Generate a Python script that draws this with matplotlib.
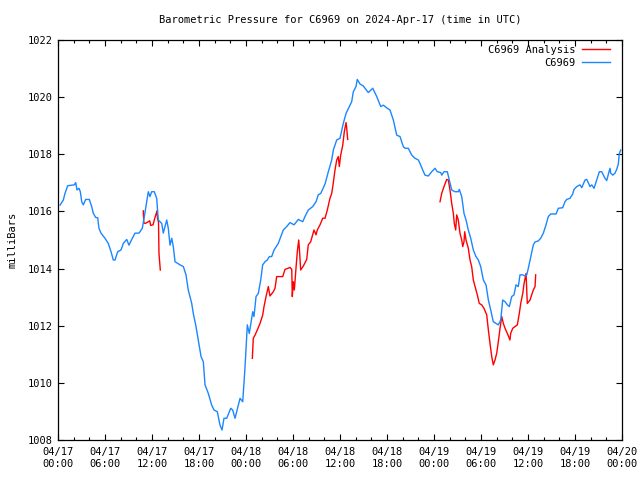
import matplotlib
matplotlib.use("Agg")
import matplotlib.pyplot as plt
import matplotlib.dates as mdates
import numpy as np
import pandas as pd

# hours after 2024-04-17 00:00 UTC, pressure in mb
obs_hours = [
    0.26, 0.68, 0.89, 1.24, 2.08, 2.26, 2.43, 2.68, 2.85, 3.03, 3.23, 3.54, 4.00, 4.30,
    4.51, 4.81, 5.07, 5.23, 5.49, 6.00, 6.42, 6.77, 7.06, 7.28, 7.62, 8.04, 8.34, 8.77,
    9.06, 9.49, 9.83, 10.34, 10.76, 11.02, 11.32, 11.53, 11.74, 11.96, 12.29, 12.60,
    12.80, 13.24, 13.44, 13.88, 14.08, 14.30, 14.52, 14.72, 14.94, 15.58, 16.00, 16.34,
    16.63, 17.07, 17.27, 17.62, 17.91, 18.26, 18.55, 18.77, 19.19, 19.62, 19.92, 20.34,
    20.68, 20.94, 21.19, 21.54, 22.05, 22.30, 22.60, 23.02, 23.24, 23.58, 23.81, 23.94,
    24.17, 24.42, 24.73, 24.86, 25.02, 25.28, 25.57, 25.88, 26.13, 26.43, 26.72, 26.98,
    27.28, 27.58, 28.12, 28.76, 29.20, 29.62, 30.13, 30.68, 31.24, 31.53, 31.95, 32.52,
    32.94, 33.23, 33.54, 34.09, 34.51, 34.94, 35.15, 35.58, 36.00, 36.42, 36.77, 37.28,
    37.49, 37.70, 38.04, 38.21, 38.55, 38.98, 39.61, 40.18, 40.69, 41.20, 41.53, 42.04,
    42.38, 42.81, 43.24, 43.66, 44.08, 44.30, 44.72, 45.16, 45.58, 46.00, 46.21, 46.56,
    46.85, 47.27, 47.71, 48.13, 48.42, 48.86, 48.99, 49.28, 49.70, 49.96, 50.26, 50.68,
    51.10, 51.23, 51.54, 51.83, 52.09, 52.38, 52.69, 53.02, 53.36, 53.66, 53.96, 54.30,
    54.64, 54.94, 55.24, 55.57, 55.92, 56.21, 56.52, 56.77, 57.07, 57.36, 57.62, 57.92,
    58.21, 58.47, 58.76, 58.98, 59.33, 59.62, 59.84, 60.04, 60.35, 60.68, 60.90, 61.32,
    61.62, 61.96, 62.30, 62.59, 62.90, 63.58, 63.87, 64.43, 64.72, 64.94, 65.36, 65.71,
    65.87, 66.22, 66.64, 66.86, 67.28, 67.50, 67.92, 68.14, 68.43, 68.77, 69.11, 69.41,
    69.83, 70.05, 70.34, 70.47, 70.56, 70.82, 71.11, 71.32, 71.53, 71.66, 71.84,
]
obs_mb = [
    1016.22, 1016.40, 1016.63, 1016.90, 1016.93, 1017.01, 1016.75, 1016.81, 1016.69,
    1016.34, 1016.23, 1016.42, 1016.42, 1016.17, 1015.93, 1015.79, 1015.78, 1015.41,
    1015.24, 1015.06, 1014.88, 1014.59, 1014.30, 1014.30, 1014.59, 1014.65, 1014.88,
    1015.02, 1014.82, 1015.06, 1015.24, 1015.24, 1015.41, 1015.82, 1016.34, 1016.69,
    1016.52, 1016.69, 1016.69, 1016.46, 1015.70, 1015.58, 1015.24, 1015.70, 1015.41,
    1014.82, 1015.06, 1014.77, 1014.24, 1014.13, 1014.07, 1013.78, 1013.25, 1012.78,
    1012.43, 1011.97, 1011.50, 1010.92, 1010.74, 1009.93, 1009.63, 1009.22, 1009.05,
    1008.99, 1008.52, 1008.35, 1008.76, 1008.76, 1009.11, 1009.05, 1008.76, 1009.22,
    1009.46, 1009.34, 1010.27, 1010.87, 1012.03, 1011.73, 1012.26, 1012.49, 1012.32,
    1013.02, 1013.13, 1013.60, 1014.13, 1014.24, 1014.30, 1014.42, 1014.42, 1014.65,
    1014.88, 1015.35, 1015.47, 1015.61, 1015.53, 1015.72, 1015.64, 1015.82, 1016.05,
    1016.17, 1016.34, 1016.58, 1016.63, 1016.96, 1017.39, 1017.80, 1018.15, 1018.50,
    1018.56, 1019.08, 1019.43, 1019.72, 1019.84, 1020.19, 1020.37, 1020.62, 1020.46,
    1020.39, 1020.16, 1020.31, 1020.02, 1019.67, 1019.72, 1019.61, 1019.55, 1019.20,
    1018.67, 1018.62, 1018.27, 1018.21, 1018.21, 1017.97, 1017.86, 1017.80, 1017.68,
    1017.45, 1017.27, 1017.24, 1017.39, 1017.51, 1017.39, 1017.36, 1017.27, 1017.39,
    1017.39, 1017.10, 1016.75, 1016.69, 1016.69, 1016.77, 1016.52, 1015.93, 1015.70,
    1015.35, 1015.06, 1014.65, 1014.42, 1014.30, 1014.07, 1013.60, 1013.43, 1012.90,
    1012.55, 1012.14, 1012.08, 1012.03, 1012.20, 1012.90, 1012.84, 1012.73, 1012.67,
    1013.02, 1013.08, 1013.43, 1013.37, 1013.78, 1013.78, 1013.74, 1013.78, 1014.01,
    1014.41, 1014.83, 1014.93, 1014.97, 1015.06, 1015.24, 1015.53, 1015.82, 1015.91,
    1015.91, 1016.11, 1016.13, 1016.34, 1016.42, 1016.46, 1016.61, 1016.77, 1016.87,
    1016.93, 1016.83, 1017.10, 1017.12, 1016.87, 1016.93, 1016.81, 1017.10, 1017.39,
    1017.39, 1017.16, 1017.08, 1017.39, 1017.51, 1017.34, 1017.27, 1017.34, 1017.47,
    1017.66, 1018.03, 1018.15,
]

# analysis runs (three separate pieces)
ana1_hours = [10.89, 10.95, 11.15, 11.53, 11.71, 11.83, 12.13, 12.35, 12.64, 12.70, 12.83, 12.89, 13.06]
ana1_mb = [1016.02, 1015.60, 1015.58, 1015.64, 1015.67, 1015.51, 1015.53, 1015.76, 1016.02,
           1015.76, 1015.63, 1014.53, 1013.95]

ana2_hours = [24.81, 24.93, 25.15, 25.44, 25.79, 26.13, 26.30, 26.56, 26.85, 27.06, 27.49, 27.70,
              27.92, 28.69, 28.98, 29.62, 29.84, 29.91, 30.04, 30.17, 30.38, 30.55, 30.73, 30.81,
              30.98, 31.32, 31.75, 31.95, 32.26, 32.68, 32.94, 33.10, 33.45, 33.79, 34.09, 34.38,
              34.72, 34.94, 35.11, 35.36, 35.58, 35.78, 35.91, 36.09, 36.35, 36.55, 36.77, 36.86, 36.98]
ana2_mb = [1010.86, 1011.56, 1011.67, 1011.85, 1012.08, 1012.37, 1012.67, 1013.02, 1013.37, 1013.04,
           1013.19, 1013.31, 1013.72, 1013.72, 1013.97, 1014.04, 1013.97, 1013.02, 1013.54, 1013.25,
           1014.01, 1014.59, 1015.00, 1014.71, 1013.95, 1014.09, 1014.32, 1014.83, 1014.94, 1015.35,
           1015.18, 1015.35, 1015.53, 1015.76, 1015.76, 1016.05, 1016.46, 1016.63, 1016.93, 1017.45,
           1017.80, 1017.92, 1017.57, 1017.97, 1018.32, 1018.79, 1019.11, 1018.91, 1018.52]

ana3_hours = [48.77, 48.98, 49.28, 49.62, 49.83, 50.04, 50.26, 50.47, 50.59, 50.77, 50.90, 51.10,
              51.32, 51.54, 51.67, 51.83, 51.92, 52.09, 52.38, 52.60, 52.81, 53.02, 53.36, 53.53,
              53.78, 54.09, 54.38, 54.73, 54.94, 55.15, 55.37, 55.57, 55.79, 56.01, 56.21, 56.43,
              56.65, 56.85, 57.07, 57.36, 57.70, 57.79, 58.05, 58.34, 58.64, 58.89, 59.07, 59.33,
              59.50, 59.75, 59.91, 60.26, 60.47, 60.68, 60.90, 60.98]
ana3_mb = [1016.34, 1016.63, 1016.87, 1017.12, 1017.10, 1016.75, 1016.28, 1015.93, 1015.58, 1015.35,
           1015.88, 1015.70, 1015.23, 1015.00, 1014.77, 1014.94, 1015.29, 1015.00, 1014.71, 1014.30,
           1014.07, 1013.60, 1013.25, 1013.08, 1012.78, 1012.73, 1012.61, 1012.38, 1011.85, 1011.38,
           1010.92, 1010.63, 1010.80, 1011.04, 1011.44, 1011.91, 1012.32, 1012.08, 1011.91, 1011.73,
           1011.50, 1011.73, 1011.91, 1011.97, 1012.03, 1012.43, 1012.78, 1013.13, 1013.48, 1013.83,
           1012.78, 1012.90, 1013.08, 1013.25, 1013.37, 1013.78]

START = pd.Timestamp("2024-04-17 00:00")


def to_time(hours):
    return START + pd.to_timedelta(np.asarray(hours), unit="h")


plt.rcParams.update({"font.family": "DejaVu Sans Mono", "font.size": 7.5})

fig = plt.figure(figsize=(6.4, 4.8), dpi=100)
ax = fig.add_axes([58 / 640, 40 / 480, 564 / 640, 400 / 480])

red = "#ff0000"
blue = "#1a86ff"
lw = 1.0
ax.plot(to_time(ana1_hours), ana1_mb, color=red, lw=lw, label="C6969 Analysis", zorder=2)
ax.plot(to_time(ana2_hours), ana2_mb, color=red, lw=lw, zorder=2)
ax.plot(to_time(ana3_hours), ana3_mb, color=red, lw=lw, zorder=2)
ax.plot(to_time(obs_hours), obs_mb, color=blue, lw=lw, label="C6969", zorder=3)

ax.set_xlim(START, START + pd.Timedelta(hours=72))
ax.set_ylim(1008, 1022)
ax.set_yticks(np.arange(1008, 1023, 2))
ax.xaxis.set_major_locator(mdates.HourLocator(byhour=range(0, 24, 6)))
ax.xaxis.set_minor_locator(mdates.HourLocator(byhour=range(0, 24, 2)))
ax.xaxis.set_major_formatter(mdates.DateFormatter("%m/%d\n%H:%M"))

ax.tick_params(which="both", direction="in", top=True, right=True, width=0.8)
ax.tick_params(which="major", length=4.5, pad=4)
ax.tick_params(which="minor", length=2.5)
ax.tick_params(axis="x", pad=5)
for s in ax.spines.values():
    s.set_linewidth(0.9)

ax.set_ylabel("milliBars", labelpad=7)
fig.text(340 / 640, 1 - 20 / 480,
         "Barometric Pressure for C6969 on 2024-Apr-17 (time in UTC)",
         ha="center", va="center")

ax.legend(loc="upper right", bbox_to_anchor=(0.984, 0.995), frameon=False,
          markerfirst=False, handlelength=2.7, handletextpad=0.6,
          labelspacing=0.25, borderaxespad=0, borderpad=0.3)

fig.savefig("out.png", dpi=100)
